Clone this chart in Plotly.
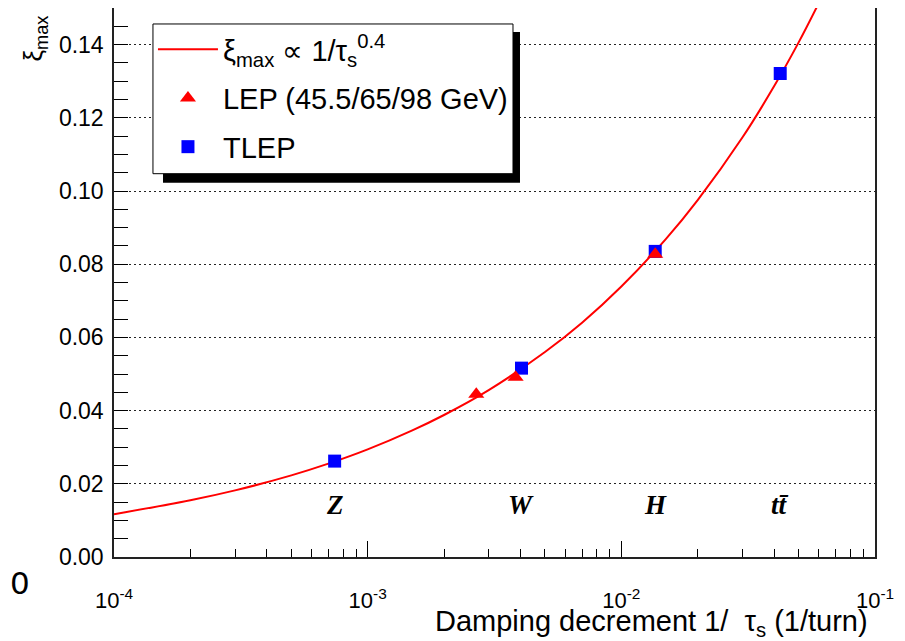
import math
import plotly.graph_objects as go

# ---- data ----
fit_x = [1e-4, 2e-4, 3e-4, 5e-4, 7e-4, 1e-3, 1.5e-3, 2e-3, 3e-3, 5e-3, 7e-3,
         1e-2, 1.5e-2, 2e-2, 3e-2, 4e-2, 5e-2, 6e-2]
fit_y = [0.0117, 0.0155, 0.0182, 0.0223, 0.0255, 0.0294, 0.0346, 0.0388, 0.0456,
         0.0560, 0.0640, 0.0739, 0.0869, 0.0975, 0.1146, 0.1286, 0.1406, 0.1513]

lep_x = [2.68e-3, 3.83e-3, 1.36e-2]
lep_y = [0.0445, 0.0491, 0.0827]

tlep_x = [7.41e-4, 4.04e-3, 1.36e-2, 4.23e-2]
tlep_y = [0.0262, 0.0516, 0.0835, 0.1321]

zone_labels = ["Z", "W", "H", "tt\u0304"]
zone_y = 0.0142

y_ticks = [0.00, 0.02, 0.04, 0.06, 0.08, 0.10, 0.12, 0.14]
y_ticktext = ["0.00", "0.02", "0.04", "0.06", "0.08", "0.10", "0.12", "0.14"]
x_ticks = [1e-4, 1e-3, 1e-2, 1e-1]
x_ticktext = ["10<sup>-4</sup>", "10<sup>-3</sup>", "10<sup>-2</sup>", "10<sup>-1</sup>"]
x_minor = [m * d for d in [1e-4, 1e-3, 1e-2] for m in range(2, 10)]

FONT = "Liberation Sans, Arial, sans-serif"

fig = go.Figure()
fig.add_trace(go.Scatter(
    x=fit_x, y=fit_y, mode="lines", line=dict(color="#ff0000", width=2),
    line_shape="spline",
    name="ξ<sub>max</sub> ∝ 1/τ<sub>s</sub><sup>0.4</sup>",
    legendgroup="a", legendrank=1))
fig.add_trace(go.Scatter(
    x=tlep_x, y=tlep_y, mode="markers",
    marker=dict(symbol="square", size=13, color="#0000ff", line=dict(width=0)),
    name="TLEP", legendgroup="c", legendrank=3))
fig.add_trace(go.Scatter(
    x=lep_x, y=lep_y, mode="markers",
    marker=dict(symbol="triangle-up", size=14, color="#ff0000", line=dict(width=0)),
    name="LEP (45.5/65/98 GeV)", legendgroup="b", legendrank=2))

annotations = []
for lx, lt in zip(tlep_x, zone_labels):
    annotations.append(dict(
        x=math.log10(lx), y=zone_y, xref="x", yref="y", text="<b><i>%s</i></b>" % lt,
        showarrow=False, font=dict(family="Liberation Serif, Times New Roman, serif",
                                   size=27, color="black")))

# axis titles
annotations.append(dict(
    x=0.993, y=-0.121, xref="paper", yref="paper", xanchor="right", yanchor="middle",
    text="Damping decrement 1/  τ<sub>s</sub> (1/turn)", showarrow=False,
    font=dict(family=FONT, size=29, color="black")))
annotations.append(dict(
    x=-0.104, y=0.944, xref="paper", yref="paper", xanchor="center", yanchor="middle",
    text="ξ<sub>max</sub>", textangle=-90, showarrow=False,
    font=dict(family=FONT, size=26, color="black")))
# stray glyph at lower left of the original image
annotations.append(dict(
    x=-0.123, y=-0.047, xref="paper", yref="paper", xanchor="center", yanchor="middle",
    text="0", showarrow=False,
    font=dict(family="DejaVu Sans, sans-serif", size=31, color="black")))

shapes = [
    dict(type="rect", xref="paper", yref="paper", x0=0.0644, x1=0.5335, y0=0.6818, y1=0.9564,
         fillcolor="black", line=dict(width=0), layer="above"),
    dict(type="rect", xref="paper", yref="paper", x0=0.0512, x1=0.5243, y0=0.6982, y1=0.9709,
         fillcolor="white", line=dict(color="black", width=1), layer="above"),
]

# the page adds an 8px body margin, so the figure is drawn 8px smaller
fig.update_layout(
    width=897, height=633,
    margin=dict(l=106, r=30, t=0, b=84, autoexpand=False),
    paper_bgcolor="white", plot_bgcolor="white",
    font=dict(family=FONT, size=22, color="black"),
    showlegend=True,
    legend=dict(x=0.0512, y=0.971, xanchor="left", yanchor="top",
                bgcolor="rgba(0,0,0,0)", borderwidth=0,
                font=dict(family=FONT, size=29, color="black"),
                traceorder="grouped", tracegroupgap=8, itemwidth=60),
    annotations=annotations,
    shapes=shapes,
)

fig.update_xaxes(
    type="log", range=[-4, -1], automargin=False,
    tickvals=x_ticks, ticktext=x_ticktext,
    ticks="inside", ticklen=16, tickwidth=1, tickcolor="black",
    minor=dict(tickvals=x_minor, ticks="inside", ticklen=8, tickwidth=1, tickcolor="black",
               showgrid=False),
    showgrid=False, zeroline=False,
    showline=True, linecolor="#222", linewidth=1.5, mirror=True,
    tickfont=dict(family=FONT, size=22, color="black"),
    ticklabelstandoff=23,
)
fig.update_yaxes(
    range=[0, 0.15], automargin=False,
    tickvals=y_ticks, ticktext=y_ticktext,
    ticks="inside", ticklen=14, tickwidth=1, tickcolor="black",
    minor=dict(dtick=0.005, ticks="inside", ticklen=14, tickwidth=1, tickcolor="black",
               showgrid=False),
    showgrid=True, gridcolor="#222", griddash="2px,3px", gridwidth=1,
    zeroline=False,
    showline=True, linecolor="#222", linewidth=1.5, mirror=True,
    tickfont=dict(family=FONT, size=23, color="black"),
    ticklabelstandoff=4,
)

fig.write_html("out.html")
